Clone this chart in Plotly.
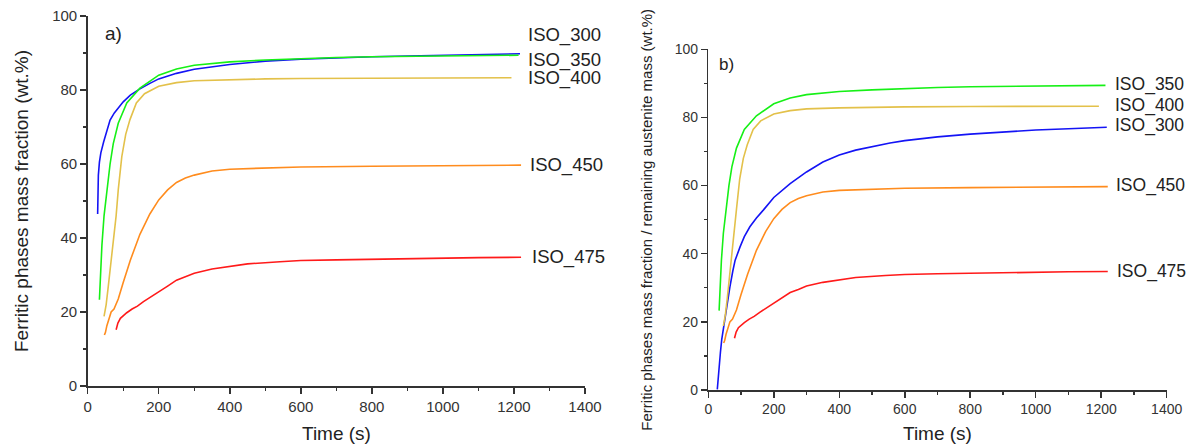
import plotly.graph_objects as go

# ---------------- data ----------------
t_300a = [28, 28.5, 30, 33, 37, 45, 55, 63, 75, 88, 100, 120, 147, 175, 200, 250, 300, 400, 500, 600, 700, 800, 900, 1000, 1100, 1217]
v_300a = [46.5, 52, 57, 60.5, 63, 66, 69, 71.9, 73.8, 75.5, 76.8, 78.6, 80.3, 81.8, 83, 84.5, 85.6, 86.9, 87.8, 88.3, 88.7, 89.0, 89.2, 89.4, 89.6, 89.8]

t_300b = [27.5, 30, 33, 37, 41, 46, 51, 58, 66, 75, 82, 97, 110, 127, 147, 168, 200, 250, 300, 350, 400, 450, 500, 555, 600, 700, 800, 900, 1000, 1100, 1217]
v_300b = [0.2, 3.5, 7, 11, 14.8, 18, 20.6, 25, 30.3, 35, 38.1, 42, 45, 47.9, 50.5, 52.8, 56.5, 60.6, 64.0, 66.9, 69.0, 70.4, 71.5, 72.5, 73.2, 74.3, 75.1, 75.8, 76.3, 76.7, 77.1]

t_350 = [33, 36, 40, 46, 55, 63, 72, 86, 110, 147, 200, 250, 300, 400, 500, 600, 700, 800, 900, 1000, 1100, 1213]
v_350 = [23.3, 30, 38, 46, 54, 60, 65.5, 71, 76.5, 80.5, 84, 85.7, 86.7, 87.6, 88.1, 88.5, 88.8, 89.0, 89.1, 89.2, 89.3, 89.4]

t_400 = [46, 52, 58, 65, 72, 80, 86, 96, 107, 119, 137, 160, 200, 250, 300, 400, 500, 600, 800, 1000, 1193]
v_400 = [18.8, 22, 27, 33, 39, 46, 53, 62, 68, 72, 76.5, 79, 81, 82, 82.5, 82.8, 83.0, 83.1, 83.2, 83.3, 83.3]

t_450 = [47, 50, 54, 60, 66, 74, 86, 100, 120, 147, 175, 200, 225, 250, 275, 300, 350, 400, 500, 600, 800, 1000, 1220]
v_450 = [13.8, 14.5, 16.3, 18.5, 20, 20.8, 23.5, 28, 34, 41, 46.5, 50.3, 53, 55, 56.2, 57, 58.1, 58.6, 59, 59.2, 59.4, 59.5, 59.7]

t_475 = [80, 85, 92, 100, 110, 125, 140, 157, 180, 200, 225, 250, 275, 300, 350, 400, 450, 541, 600, 700, 800, 900, 1000, 1100, 1220]
v_475 = [15.2, 17, 18.3, 19, 19.8, 20.8, 21.6, 22.8, 24.3, 25.5, 27, 28.6, 29.5, 30.5, 31.6, 32.4, 33.0, 33.6, 33.9, 34.1, 34.3, 34.5, 34.6, 34.7, 34.8]

names = ["ISO_300", "ISO_350", "ISO_400", "ISO_450", "ISO_475"]
x_ticks = [0, 200, 400, 600, 800, 1000, 1200, 1400]
y_ticks = [0, 20, 40, 60, 80, 100]

# ---------------- styling ----------------
colors = {"ISO_300": "#1414f5", "ISO_350": "#16f016", "ISO_400": "#e3c14a",
          "ISO_450": "#ff8c1e", "ISO_475": "#ff1a1a"}
FONT = "Liberation Sans, Arial, sans-serif"
AX = "#333333"
W, H = 1191, 445

fig = go.Figure()

panel_a = {"ISO_300": (t_300a, v_300a), "ISO_350": (t_350, v_350), "ISO_400": (t_400, v_400),
           "ISO_450": (t_450, v_450), "ISO_475": (t_475, v_475)}
panel_b = {"ISO_300": (t_300b, v_300b), "ISO_350": (t_350, v_350), "ISO_400": (t_400, v_400),
           "ISO_450": (t_450, v_450), "ISO_475": (t_475, v_475)}

for panel, (xa, ya) in ((panel_a, ("x", "y")), (panel_b, ("x2", "y2"))):
    for n in names:
        tx, vy = panel[n]
        fig.add_trace(go.Scatter(x=tx, y=vy, mode="lines", name=n, xaxis=xa, yaxis=ya,
                                 line=dict(color=colors[n], width=1.6), showlegend=False,
                                 hoverinfo="skip"))

def xax(domain, anchor, tsize):
    return dict(domain=domain, anchor=anchor, range=[0, 1400], tickvals=x_ticks, showline=True,
                linecolor=AX, linewidth=1.5, ticks="outside", ticklen=6, tickwidth=1.5, tickcolor=AX,
                showgrid=False, zeroline=False, automargin=False,
                tickfont=dict(family=FONT, size=tsize, color="#333"),
                minor=dict(dtick=100, ticklen=3, tickwidth=1.2, tickcolor=AX, ticks="outside", showgrid=False),
                fixedrange=True)

def yax(domain, anchor, tsize):
    return dict(domain=domain, anchor=anchor, range=[0, 100], tickvals=y_ticks, showline=True,
                linecolor=AX, linewidth=1.5, ticks="outside", ticklen=6, tickwidth=1.5, tickcolor=AX,
                showgrid=False, zeroline=False, automargin=False,
                tickfont=dict(family=FONT, size=tsize, color="#333"),
                minor=dict(dtick=10, ticklen=3, tickwidth=1.2, tickcolor=AX, ticks="outside", showgrid=False),
                fixedrange=True)

fig.update_layout(
    width=W, height=H, margin=dict(l=0, r=0, t=0, b=0, autoexpand=False),
    paper_bgcolor="white", plot_bgcolor="white",
    xaxis=xax([87.7 / W, 585 / W], "y", 15),
    yaxis=yax([(H - 386) / H, (H - 16) / H], "x", 15),
    xaxis2=xax([708.3 / W, 1166.7 / W], "y2", 14),
    yaxis2=yax([(H - 390) / H, (H - 49.3) / H], "x2", 14),
)

# axis titles as paper-positioned annotations
titles = [
    ("Time (s)", 336 / W, 1 - 433 / H, 0, 19),
    ("Time (s)", 937.5 / W, 1 - 433 / H, 0, 19),
    ("Ferritic phases mass fraction (wt.%)", 21 / W, 1 - 201 / H, -90, 19),
    ("Ferritic phases mass fraction / remaining austenite mass (wt.%)", 647 / W, 1 - 219.7 / H, -90, 15),
]
for txt, px, py, ang, fs in titles:
    fig.add_annotation(x=px, y=py, xref="paper", yref="paper", text=txt, showarrow=False,
                       textangle=ang, xanchor="center", yanchor="middle",
                       font=dict(family=FONT, size=fs, color="#222"))

# curve labels (label positions are layout, not data)
label_pos_a = {"ISO_300": (1238, 94.9), "ISO_350": (1238, 88.1), "ISO_400": (1238, 83.2),
               "ISO_450": (1243, 59.7), "ISO_475": (1248, 34.9)}
label_pos_b = {"ISO_350": (1240, 89.7), "ISO_400": (1240, 83.4), "ISO_300": (1240, 77.6),
               "ISO_450": (1243, 59.9), "ISO_475": (1245, 34.9)}
for pos, xr, yr, fs in ((label_pos_a, "x", "y", 18.5), (label_pos_b, "x2", "y2", 17.5)):
    for n, (lx, ly) in pos.items():
        fig.add_annotation(x=lx, y=ly, xref=xr, yref=yr, text=n, showarrow=False,
                           xanchor="left", yanchor="middle", borderpad=0,
                           font=dict(family=FONT, size=fs, color="#222"))

fig.add_annotation(x=43, y=95.4, xref="x", yref="y", text="a)", showarrow=False,
                   xanchor="left", yanchor="middle", font=dict(family=FONT, size=19, color="#222"))
fig.add_annotation(x=27.5, y=95.6, xref="x2", yref="y2", text="b)", showarrow=False,
                   xanchor="left", yanchor="middle", font=dict(family=FONT, size=17, color="#222"))

fig.write_html("out.html", config={"displayModeBar": False, "staticPlot": True},
               post_script="document.body.style.margin='0px';document.body.style.overflow='hidden';")
